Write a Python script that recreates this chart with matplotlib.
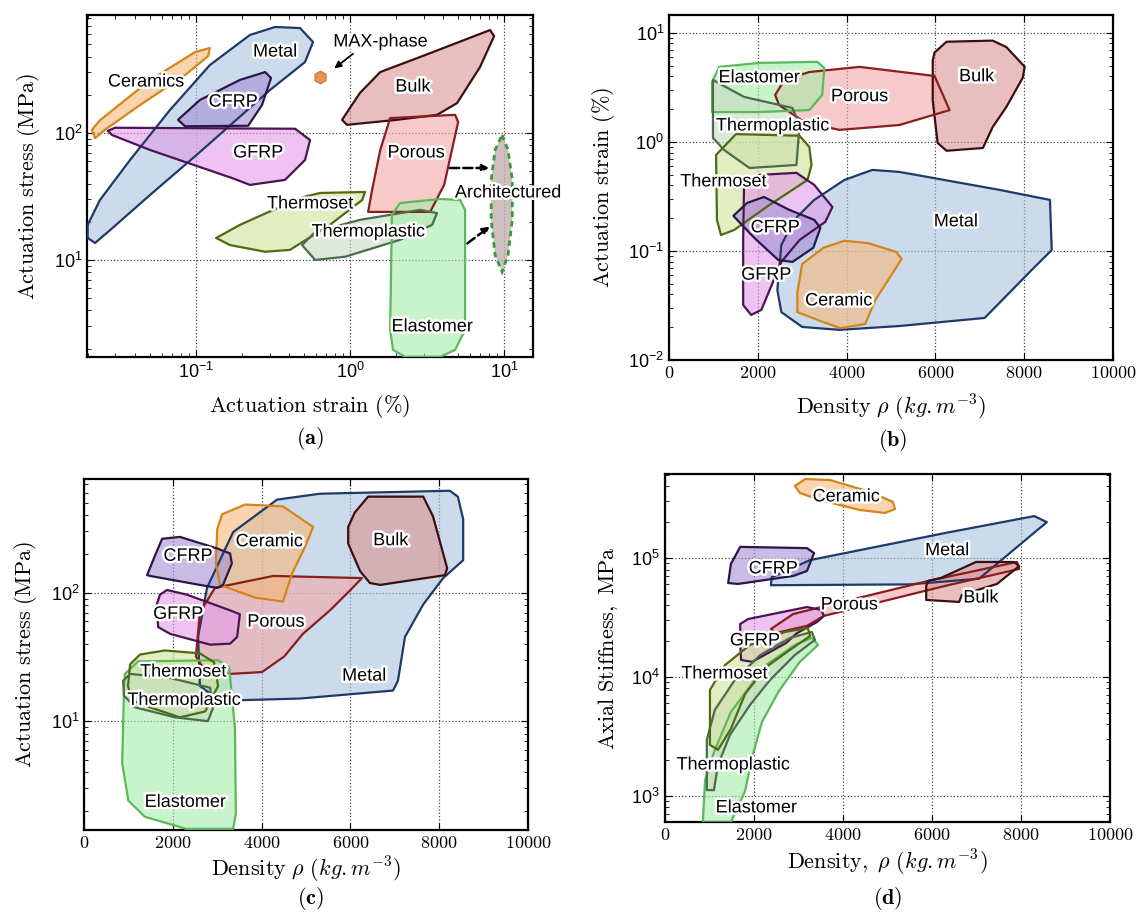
import matplotlib
matplotlib.use('Agg')
import matplotlib.pyplot as plt
import matplotlib.patheffects as pe
from matplotlib.patches import Polygon
from matplotlib.ticker import NullFormatter, FuncFormatter, FixedLocator, LogLocator

plt.rcParams['mathtext.fontset'] = 'cm'
plt.rcParams['font.family'] = ['Liberation Sans', 'DejaVu Sans']

# face colour, edge colour for every material family
colors = {
    'Metal': ('#a9c3de', '#1f3a68'),
    'Ceramic': ('#f6b878', '#d4851a'),
    'CFRP': ('#a48fd4', '#2b1747'),
    'GFRP': ('#e49ae8', '#4b1455'),
    'Bulk': ('#d99494', '#3a0f0f'),
    'Porous': ('#f2a8a8', '#8a1d1d'),
    'Thermoset': ('#cfe39a', '#4f6b12'),
    'Thermoplastic': ('#c6dcc2', '#4d6b4d'),
    'Elastomer': ('#a6eba8', '#5cb85c'),
    'Architectured': ('#c4b0b0', '#3a9a3a'),
}

# ---------------- (a) actuation stress vs actuation strain ----------------
a_ceramics = [(0.0211, 106), (0.0238, 126), (0.0503, 261), (0.0986, 434), (0.123, 467),
              (0.120, 404), (0.0849, 286), (0.0433, 166), (0.0256, 106), (0.0221, 91)]
a_metal = [(0.0198, 18.9), (0.0238, 29.7), (0.0373, 61.3), (0.0678, 152), (0.123, 343),
           (0.224, 592), (0.326, 684), (0.473, 671), (0.575, 521), (0.510, 362),
           (0.302, 218), (0.106, 70.8), (0.0503, 32.5), (0.0277, 17.2), (0.0221, 13.6),
           (0.0198, 14.9)]
a_cfrp = [(0.0764, 127), (0.106, 182), (0.193, 262), (0.281, 302), (0.307, 271),
          (0.268, 166), (0.218, 114), (0.0849, 113)]
a_gfrp = [(0.0268, 104), (0.0298, 110), (0.440, 108), (0.550, 88), (0.510, 61.3),
          (0.378, 42.7), (0.224, 39.0), (0.171, 44.2), (0.0503, 73.5), (0.0285, 96.4)]
a_bulk = [(0.887, 127), (1.16, 207), (1.57, 302), (2.85, 397), (8.11, 647), (8.61, 580),
          (6.98, 331), (4.95, 172), (3.67, 139), (2.02, 127), (0.955, 116)]
a_porous = [(1.82, 131), (4.81, 139), (5.03, 122), (4.08, 39), (3.31, 23.9), (1.31, 23.9),
            (1.39, 35.6), (1.57, 73.5)]
a_thermoset = [(0.135, 14.9), (0.193, 18.9), (0.473, 30.8), (0.638, 33.7), (1.25, 34.3),
               (1.20, 29.7), (0.740, 18.9), (0.407, 12.0), (0.281, 11.6), (0.166, 13.1)]
a_thermoplastic = [(0.488, 13.1), (0.593, 16.6), (1.16, 20.7), (2.85, 24.8), (3.67, 23.4),
                   (3.41, 18.9), (2.11, 14.4), (0.929, 10.6), (0.593, 10.0)]
a_elastomer = [(1.87, 22.6), (2.11, 28.1), (3.84, 30.2), (5.18, 29.7), (5.58, 24.8),
               (5.58, 2.81), (4.81, 1.96), (3.84, 1.72), (2.28, 1.72), (1.90, 1.96),
               (1.82, 2.81)]
a_architectured = [(9.70, 96.4), (10.6, 73.5), (11.3, 42.7), (11.3, 20.7), (10.6, 10.9),
                   (9.70, 8.05), (8.74, 10.9), (8.24, 20.7), (8.24, 42.7), (8.74, 73.5)]
a_maxphase = (0.638, 276)

a_regions = [('Metal', a_metal, 'Metal', (0.326, 434)),
             ('Ceramic', a_ceramics, 'Ceramics', (0.0473, 252)),
             ('CFRP', a_cfrp, 'CFRP', (0.174, 175)),
             ('GFRP', a_gfrp, 'GFRP', (0.253, 69.6)),
             ('Bulk', a_bulk, 'Bulk', (2.56, 230)),
             ('Porous', a_porous, 'Porous', (2.68, 69.6)),
             ('Thermoset', a_thermoset, 'Thermoset', (0.549, 27.6)),
             ('Thermoplastic', a_thermoplastic, 'Thermoplastic', (1.31, 16.6)),
             ('Elastomer', a_elastomer, 'Elastomer', (3.41, 2.97))]

# ---------------- (b) actuation strain vs density ----------------
b_bulk = [(5980, 6.6), (6250, 8.3), (7290, 8.5), (7600, 7.4), (8010, 4.9), (7970, 3.9),
          (7600, 2.1), (7290, 1.37), (7070, 0.88), (6250, 0.83), (6050, 0.98), (5940, 2.4),
          (5940, 5.6)]
b_porous = [(2390, 2.70), (2600, 3.70), (3160, 4.38), (4290, 4.88), (5980, 4.03), (6320, 1.96),
            (5190, 1.43), (3840, 1.29), (3050, 1.52), (2480, 2.18)]
b_elastomer = [(970, 3.55), (1130, 4.88), (2030, 5.31), (3340, 5.43), (3500, 4.77),
               (3450, 2.70), (3160, 1.96), (2030, 1.88), (970, 1.88)]
b_thermoplastic = [(990, 3.70), (1690, 2.59), (2780, 2.05), (2940, 1.43), (2870, 0.615),
                   (1810, 0.577), (1240, 0.845), (990, 1.09)]
b_thermoset = [(1060, 0.760), (1510, 1.18), (2940, 1.14), (3160, 0.900), (3210, 0.615),
               (3120, 0.448), (2260, 0.264), (1470, 0.156), (1170, 0.140), (1080, 0.193)]
b_gfrp = [(1690, 0.404), (2030, 0.498), (2870, 0.521), (3270, 0.404), (3680, 0.253),
          (3520, 0.185), (2940, 0.126), (2530, 0.0793), (2080, 0.0288), (1850, 0.0259),
          (1670, 0.0320), (1670, 0.126)]
b_cfrp = [(1450, 0.210), (1760, 0.276), (2140, 0.313), (2710, 0.238), (3270, 0.193),
          (3410, 0.163), (3250, 0.107), (2780, 0.0793), (2460, 0.0828), (1920, 0.132)]
b_metal = [(2440, 0.0439), (2530, 0.1135), (2820, 0.193), (3270, 0.294), (3950, 0.448),
           (4580, 0.554), (5190, 0.531), (7450, 0.363), (8580, 0.294), (8620, 0.102),
           (8170, 0.067), (7110, 0.0243), (5190, 0.0205), (3840, 0.0189), (3000, 0.0201),
           (2530, 0.0275)]
b_ceramic = [(3000, 0.0760), (3480, 0.107), (3950, 0.124), (4490, 0.118), (5120, 0.0979),
             (5240, 0.0845), (4650, 0.0356), (4420, 0.0214), (3860, 0.0196), (3410, 0.0228),
             (2890, 0.0275), (2890, 0.0412)]

b_regions = [('Metal', b_metal, 'Metal', (6460, 0.185)),
             ('Ceramic', b_ceramic, 'Ceramic', (3820, 0.0348)),
             ('Bulk', b_bulk, 'Bulk', (6930, 3.96)),
             ('Porous', b_porous, 'Porous', (4290, 2.6)),
             ('Elastomer', b_elastomer, 'Elastomer', (2030, 3.87)),
             ('Thermoplastic', b_thermoplastic, 'Thermoplastic', (2330, 1.40)),
             ('Thermoset', b_thermoset, 'Thermoset', (1220, 0.43)),
             ('GFRP', b_gfrp, 'GFRP', (2190, 0.060)),
             ('CFRP', b_cfrp, 'CFRP', (2390, 0.163))]

# ---------------- (c) actuation stress vs density ----------------
c_metal = [(2610, 18.8), (2570, 45.3), (2770, 109), (3360, 297), (4350, 531), (5320, 590),
           (8240, 622), (8420, 560), (8540, 374), (8540, 179), (8090, 130), (7640, 81.0),
           (7230, 45.3), (7070, 20.6), (6960, 17.3), (4870, 15.0), (3060, 14.4)]
c_ceramic = [(3000, 313), (3110, 408), (3630, 486), (4480, 470), (5160, 325), (4980, 228),
             (4690, 142), (4480, 85.4), (3850, 91.6), (3060, 115), (2970, 169)]
c_bulk = [(5950, 325), (6100, 422), (6400, 560), (7640, 560), (7860, 394), (8180, 155),
          (8130, 137), (6670, 115), (6440, 119), (6220, 147), (5950, 241)]
c_porous = [(2520, 31.9), (2610, 70.4), (2950, 109), (4260, 135), (6260, 130), (5990, 104),
            (5540, 72.9), (4930, 47.8), (4510, 31.9), (4010, 24.1), (3270, 23.3), (2730, 24.5)]
c_cfrp = [(1420, 137), (1600, 195), (1760, 263), (2160, 272), (3000, 221), (3290, 202),
          (3330, 169), (3130, 115), (3000, 109), (2610, 115), (1490, 135)]
c_gfrp = [(1710, 96.5), (1870, 105), (2320, 96.5), (3290, 72.9), (3510, 67.9), (3450, 45.3),
          (3290, 40.1), (2840, 39.4), (1940, 47.8), (1670, 54.0), (1640, 81.0)]
c_thermoset = [(990, 18.8), (1040, 27.7), (1260, 33.0), (1820, 35.5), (2610, 33.7),
               (2930, 28.7), (3020, 18.8), (2730, 11.9), (2160, 10.7), (1490, 12.8),
               (1080, 14.5)]
c_thermoplastic = [(880, 20.6), (1040, 23.3), (1940, 21.7), (2840, 18.2), (2910, 12.8),
                   (2790, 10.0), (2050, 10.7), (1150, 12.8), (900, 15.8)]
c_elastomer = [(920, 23.3), (1220, 29.2), (3020, 29.8), (3270, 26.3), (3400, 8.8),
               (3420, 1.9), (3360, 1.45), (2300, 1.45), (1370, 1.8), (1000, 2.4),
               (860, 4.7), (900, 17.0)]

c_regions = [('Metal', c_metal, 'Metal', (6310, 22.4)),
             ('Porous', c_porous, 'Porous', (4320, 59)),
             ('Ceramic', c_ceramic, 'Ceramic', (4170, 249)),
             ('Bulk', c_bulk, 'Bulk', (6910, 254)),
             ('CFRP', c_cfrp, 'CFRP', (2340, 192)),
             ('GFRP', c_gfrp, 'GFRP', (2120, 67.9)),
             ('Elastomer', c_elastomer, 'Elastomer', (2280, 2.33)),
             ('Thermoset', c_thermoset, 'Thermoset', (2230, 24.1)),
             ('Thermoplastic', c_thermoplastic, 'Thermoplastic', (2250, 14.5))]

# ---------------- (d) axial stiffness vs density ----------------
d_ceramic = [(2920, 4.03e5), (3150, 4.61e5), (3710, 4.52e5), (4610, 3.59e5), (5120, 2.96e5),
             (5170, 2.58e5), (4940, 2.39e5), (4380, 2.53e5), (3480, 3.07e5), (3030, 3.52e5)]
d_metal = [(2380, 5.9e4), (2400, 6.9e4), (3260, 9.6e4), (6290, 1.62e5), (8300, 2.25e5),
           (8580, 2.0e5), (7060, 6.7e4), (5500, 6.0e4)]
d_cfrp = [(1420, 6.16e4), (1480, 8.9e4), (1690, 1.24e5), (3190, 1.21e5), (3350, 1.10e5),
          (3190, 7.78e4), (2880, 7.06e4), (1640, 6.05e4)]
d_bulk = [(5910, 6.41e4), (6200, 6.79e4), (6990, 9.26e4), (7840, 9.26e4), (7960, 8.56e4),
          (7460, 6.05e4), (6670, 4.89e4), (6610, 4.27e4), (5870, 4.44e4), (5870, 5.82e4)]
d_porous = [(2380, 2.53e4), (2880, 3.38e4), (3510, 3.87e4), (5910, 6.41e4), (7910, 9.26e4),
            (7960, 8.09e4), (6290, 5.82e4), (3570, 3.26e4), (3190, 2.69e4), (2490, 2.34e4)]
d_gfrp = [(1690, 2.79e4), (1870, 3.07e4), (3190, 3.87e4), (3510, 3.66e4), (3570, 3.26e4),
          (3420, 2.90e4), (2970, 2.34e4), (2720, 1.93e4), (1960, 1.34e4), (1710, 1.39e4),
          (1690, 1.93e4)]
d_thermoset = [(1010, 2.69e3), (1010, 7.78e3), (1350, 1.26e4), (1910, 1.86e4), (2700, 2.39e4),
               (3210, 2.58e4), (3260, 2.21e4), (2810, 1.69e4), (2270, 1.21e4), (1800, 7.20e3),
               (1480, 3.66e3), (1190, 2.44e3)]
d_thermoplastic = [(940, 1.12e3), (940, 2.96e3), (1120, 5.29e3), (1570, 9.44e3), (2140, 1.53e4),
                   (2810, 2.13e4), (3300, 2.39e4), (3370, 2.05e4), (2920, 1.53e4), (2360, 9.44e3),
                   (1910, 5.82e3), (1460, 3.26e3), (1190, 1.82e3), (1100, 1.12e3)]
d_elastomer = [(850, 600), (900, 1.36e3), (1100, 2.34e3), (1480, 5.08e3), (2270, 1.26e4),
               (2920, 1.86e4), (3300, 2.13e4), (3440, 1.86e4), (3030, 1.34e4), (2560, 7.62e3),
               (2180, 4.19e3), (1960, 2.13e3), (1800, 1.10e3), (1480, 600)]

d_regions = [('Ceramic', d_ceramic, 'Ceramic', (4070, 3.26e5)),
             ('Metal', d_metal, 'Metal', (6340, 1.15e5)),
             ('CFRP', d_cfrp, 'CFRP', (2430, 8.09e4)),
             ('Porous', d_porous, 'Porous', (4140, 4.03e4)),
             ('Bulk', d_bulk, 'Bulk', (7100, 4.61e4)),
             ('GFRP', d_gfrp, 'GFRP', (2020, 2.01e4)),
             ('Elastomer', d_elastomer, 'Elastomer', (2050, 793)),
             ('Thermoplastic', d_thermoplastic, 'Thermoplastic', (1530, 1.82e3)),
             ('Thermoset', d_thermoset, 'Thermoset', (1330, 1.06e4))]

halo = [pe.withStroke(linewidth=3.5, foreground='white')]


def draw_regions(ax, regions):
    for key, pts, name, lab in regions:
        face, edge = colors[key]
        ax.add_patch(Polygon(pts, closed=True, facecolor=face, edgecolor='none',
                             alpha=0.6, zorder=2))
        ax.add_patch(Polygon(pts, closed=True, facecolor='none', edgecolor=edge,
                             lw=1.6, joinstyle='round', zorder=3))
    for key, pts, name, lab in regions:
        ax.text(lab[0], lab[1], name, ha='center', va='center', fontsize=13,
                zorder=6, path_effects=halo)


def style(ax, xlabel, ylabel, xlog=False, xpad=8):
    ax.set_yscale('log')
    if xlog:
        ax.set_xscale('log')
    else:
        ax.set_xticks([0, 2000, 4000, 6000, 8000, 10000])
        ax.xaxis.set_major_formatter(FuncFormatter(lambda v, p: '$%d$' % v))
    ax.yaxis.set_minor_formatter(NullFormatter())
    ax.xaxis.set_minor_formatter(NullFormatter())
    ax.grid(True, which='major', ls=':', color='#444444', lw=0.9)
    ax.tick_params(which='both', direction='in', top=True, right=True, labelsize=13)
    ax.tick_params(which='major', length=5)
    ax.tick_params(which='minor', length=3)
    for s in ax.spines.values():
        s.set_linewidth(1.6)
    ax.set_xlabel(xlabel, fontsize=16, labelpad=xpad)
    ax.set_ylabel(ylabel, fontsize=16, labelpad=8)


fig = plt.figure(figsize=(11.4, 9.15), dpi=100)
ax_a = fig.add_axes([87 / 1140, 1 - 357 / 915, 446 / 1140, 342 / 915])
ax_b = fig.add_axes([669 / 1140, 1 - 360 / 915, 444 / 1140, 345 / 915])
ax_c = fig.add_axes([84 / 1140, 1 - 830 / 915, 444 / 1140, 351 / 915])
ax_d = fig.add_axes([665 / 1140, 1 - 822 / 915, 445 / 1140, 348 / 915])

# (a)
draw_regions(ax_a, a_regions)
face, edge = colors['Architectured']
ax_a.add_patch(Polygon(a_architectured, closed=True, facecolor=face, edgecolor='none',
                       alpha=0.8, zorder=2))
ax_a.add_patch(Polygon(a_architectured, closed=True, facecolor='none', edgecolor=edge,
                       lw=2, ls=(0, (2, 1.5)), zorder=3))
ax_a.text(10.6, 33.7, 'Architectured', ha='center', va='center', fontsize=13, zorder=6,
          path_effects=halo)
ax_a.plot(*a_maxphase, marker='h', ms=9, color='#e8955a', mec='#d07a3a', zorder=4)
ax_a.text(1.57, 521, 'MAX-phase', ha='center', va='center', fontsize=13, zorder=6,
          path_effects=halo)
ax_a.annotate('', xy=(0.764, 313), xytext=(1.08, 434),
              arrowprops=dict(arrowstyle='-|>', color='black', lw=1.3), zorder=5)
ax_a.annotate('', xy=(8.36, 53), xytext=(4.27, 53),
              arrowprops=dict(arrowstyle='-|>', color='black', lw=1.8, ls='--'), zorder=5)
ax_a.annotate('', xy=(8.36, 18.9), xytext=(5.58, 13.1),
              arrowprops=dict(arrowstyle='-|>', color='black', lw=1.8, ls='--'), zorder=5)
ax_a.set_xlim(0.0196, 15.4)
ax_a.set_ylim(1.72, 850)
style(ax_a, r'$\mathrm{Actuation\ strain\ (\%)}$', r'$\mathrm{Actuation\ stress\ (MPa)}$',
      xlog=True, xpad=8)
ax_a.xaxis.set_major_locator(FixedLocator([0.1, 1, 10]))
ax_a.yaxis.set_major_locator(FixedLocator([10, 100]))

# (b)
draw_regions(ax_b, b_regions)
ax_b.set_xlim(0, 10000)
ax_b.set_ylim(0.01, 14.6)
style(ax_b, r'$\mathrm{Density}\ \rho\ (kg.m^{-3})$', r'$\mathrm{Actuation\ strain\ (\%)}$',
      xpad=8)
ax_b.yaxis.set_major_locator(FixedLocator([0.01, 0.1, 1, 10]))

# (c)
draw_regions(ax_c, c_regions)
ax_c.set_xlim(0, 10000)
ax_c.set_ylim(1.42, 768)
style(ax_c, r'$\mathrm{Density}\ \rho\ (kg.m^{-3})$', r'$\mathrm{Actuation\ stress\ (MPa)}$',
      xpad=2)
ax_c.yaxis.set_major_locator(FixedLocator([10, 100]))

# (d)
draw_regions(ax_d, d_regions)
ax_d.set_xlim(0, 10000)
ax_d.set_ylim(604, 5.08e5)
style(ax_d, r'$\mathrm{Density,}\ \rho\ (kg.m^{-3})$', r'$\mathrm{Axial\ Stiffness,\ MPa}$',
      xpad=3)
ax_d.yaxis.set_major_locator(FixedLocator([1e3, 1e4, 1e5]))

for ax in (ax_a, ax_b, ax_c, ax_d):
    ax.yaxis.set_minor_locator(LogLocator(subs=range(2, 10)))
ax_a.xaxis.set_minor_locator(LogLocator(subs=range(2, 10)))

# panel letters
fig.text(310 / 1140, 1 - 439 / 915, r'$\mathbf{(a)}$', ha='center', va='center', fontsize=16)
fig.text(893 / 1140, 1 - 440 / 915, r'$\mathbf{(b)}$', ha='center', va='center', fontsize=16)
fig.text(310 / 1140, 1 - 899 / 915, r'$\mathbf{(c)}$', ha='center', va='center', fontsize=16)
fig.text(888 / 1140, 1 - 899 / 915, r'$\mathbf{(d)}$', ha='center', va='center', fontsize=16)

fig.savefig('out.png', dpi=100)
